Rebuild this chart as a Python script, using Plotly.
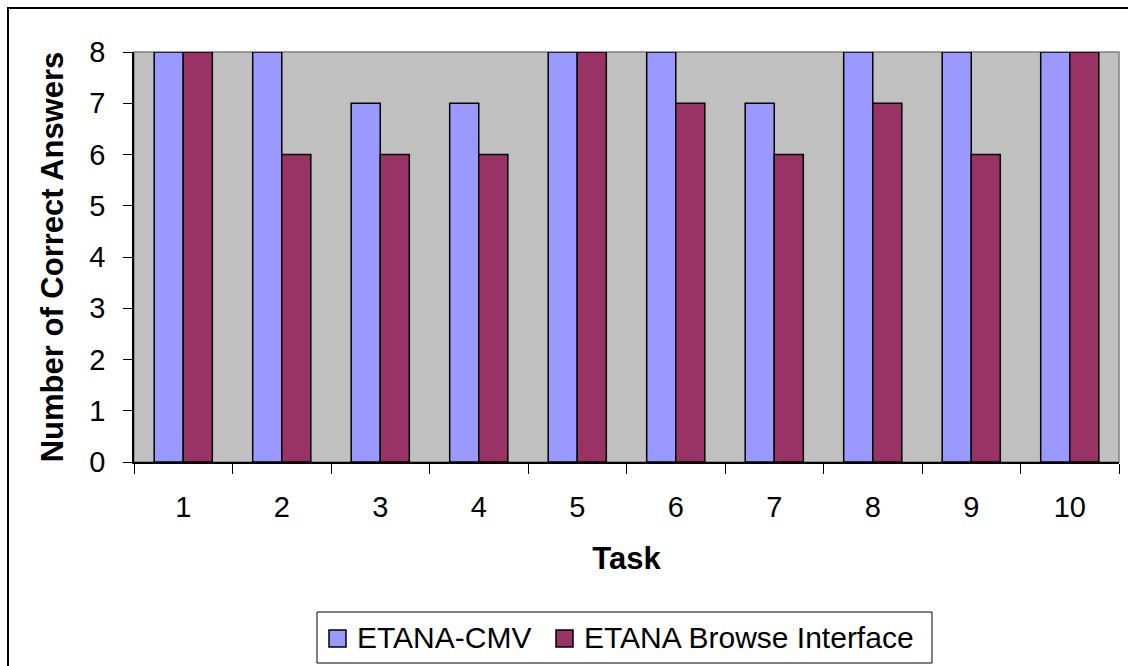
import plotly.graph_objects as go

tasks = ["1", "2", "3", "4", "5", "6", "7", "8", "9", "10"]
etana_cmv = [8, 8, 7, 7, 8, 8, 7, 8, 8, 8]
etana_browse = [8, 6, 6, 6, 8, 7, 6, 7, 6, 8]
series_names = ["ETANA-CMV", "ETANA Browse Interface"]
series_colors = ["#9999FF", "#993366"]

W, H = 1128, 666
L, R, T, B = 134, 9, 52, 204
pw, ph = W - L - R, H - T - B

FONT = "Arial, Liberation Sans, sans-serif"
FS = 29
FS_TITLE = 31
FS_LEGEND = 30


def px_x(px):
    return (px - L) / pw


def px_y(py):
    return (H - B - py) / ph


fig = go.Figure()
for vals, name, col in zip([etana_cmv, etana_browse], series_names, series_colors):
    fig.add_trace(go.Bar(
        x=tasks, y=vals, name=name, showlegend=False,
        marker=dict(color=col, line=dict(color="#000000", width=1.5)),
    ))

shapes = [
    # frame around the whole chart (left/top edges visible)
    dict(type="rect", xref="paper", yref="paper", x0=px_x(8), x1=1.2, y0=-1.0, y1=px_y(8),
         line=dict(color="#000000", width=2), fillcolor="rgba(0,0,0,0)", layer="above"),
    # plot area border (gray top/right)
    dict(type="rect", xref="paper", yref="paper", x0=0, x1=1, y0=0, y1=1,
         line=dict(color="#808080", width=1.5), fillcolor="rgba(0,0,0,0)", layer="below"),
    # legend box
    dict(type="rect", xref="paper", yref="paper", x0=px_x(317), x1=px_x(932),
         y0=px_y(663), y1=px_y(612),
         line=dict(color="#000000", width=1), fillcolor="white", layer="above"),
]
annotations = []
legend_items = [(329, 357), (556, 584)]
for (sx, tx), name, col in zip(legend_items, series_names, series_colors):
    shapes.append(dict(type="rect", xref="paper", yref="paper",
                       x0=px_x(sx), x1=px_x(sx + 17), y0=px_y(647), y1=px_y(630),
                       line=dict(color="#000000", width=1.5), fillcolor=col, layer="above"))
    annotations.append(dict(xref="paper", yref="paper", x=px_x(tx - 2), y=px_y(637),
                            xanchor="left", yanchor="middle", showarrow=False,
                            text=name, font=dict(family=FONT, size=FS_LEGEND, color="#000000")))

fig.update_layout(
    width=W, height=H,
    margin=dict(l=L, r=R, t=T, b=B),
    paper_bgcolor="white",
    plot_bgcolor="#C0C0C0",
    barmode="group",
    bargap=0.41,
    bargroupgap=0,
    font=dict(family=FONT, size=FS, color="#000000"),
    shapes=shapes,
    annotations=annotations,
    showlegend=False,
    xaxis=dict(
        type="category",
        tickson="boundaries",
        ticks="outside", ticklen=10, tickcolor="#000000", tickwidth=1,
        showline=True, linecolor="#000000", linewidth=1.5,
        showgrid=False, zeroline=False, automargin=False,
        ticklabelstandoff=18,
        tickfont=dict(size=FS),
        title=dict(text="<b>Task</b>", font=dict(size=FS_TITLE), standoff=26),
    ),
    yaxis=dict(
        range=[0, 8],
        tickvals=[0, 1, 2, 3, 4, 5, 6, 7, 8],
        ticks="outside", ticklen=9, tickcolor="#000000", tickwidth=1,
        showline=True, linecolor="#000000", linewidth=1.5,
        showgrid=False, zeroline=False, automargin=False,
        ticklabelstandoff=12,
        tickfont=dict(size=FS),
        title=dict(text="<b>Number of Correct Answers</b>", font=dict(size=FS_TITLE), standoff=16),
    ),
)

fig.write_html("out.html")
